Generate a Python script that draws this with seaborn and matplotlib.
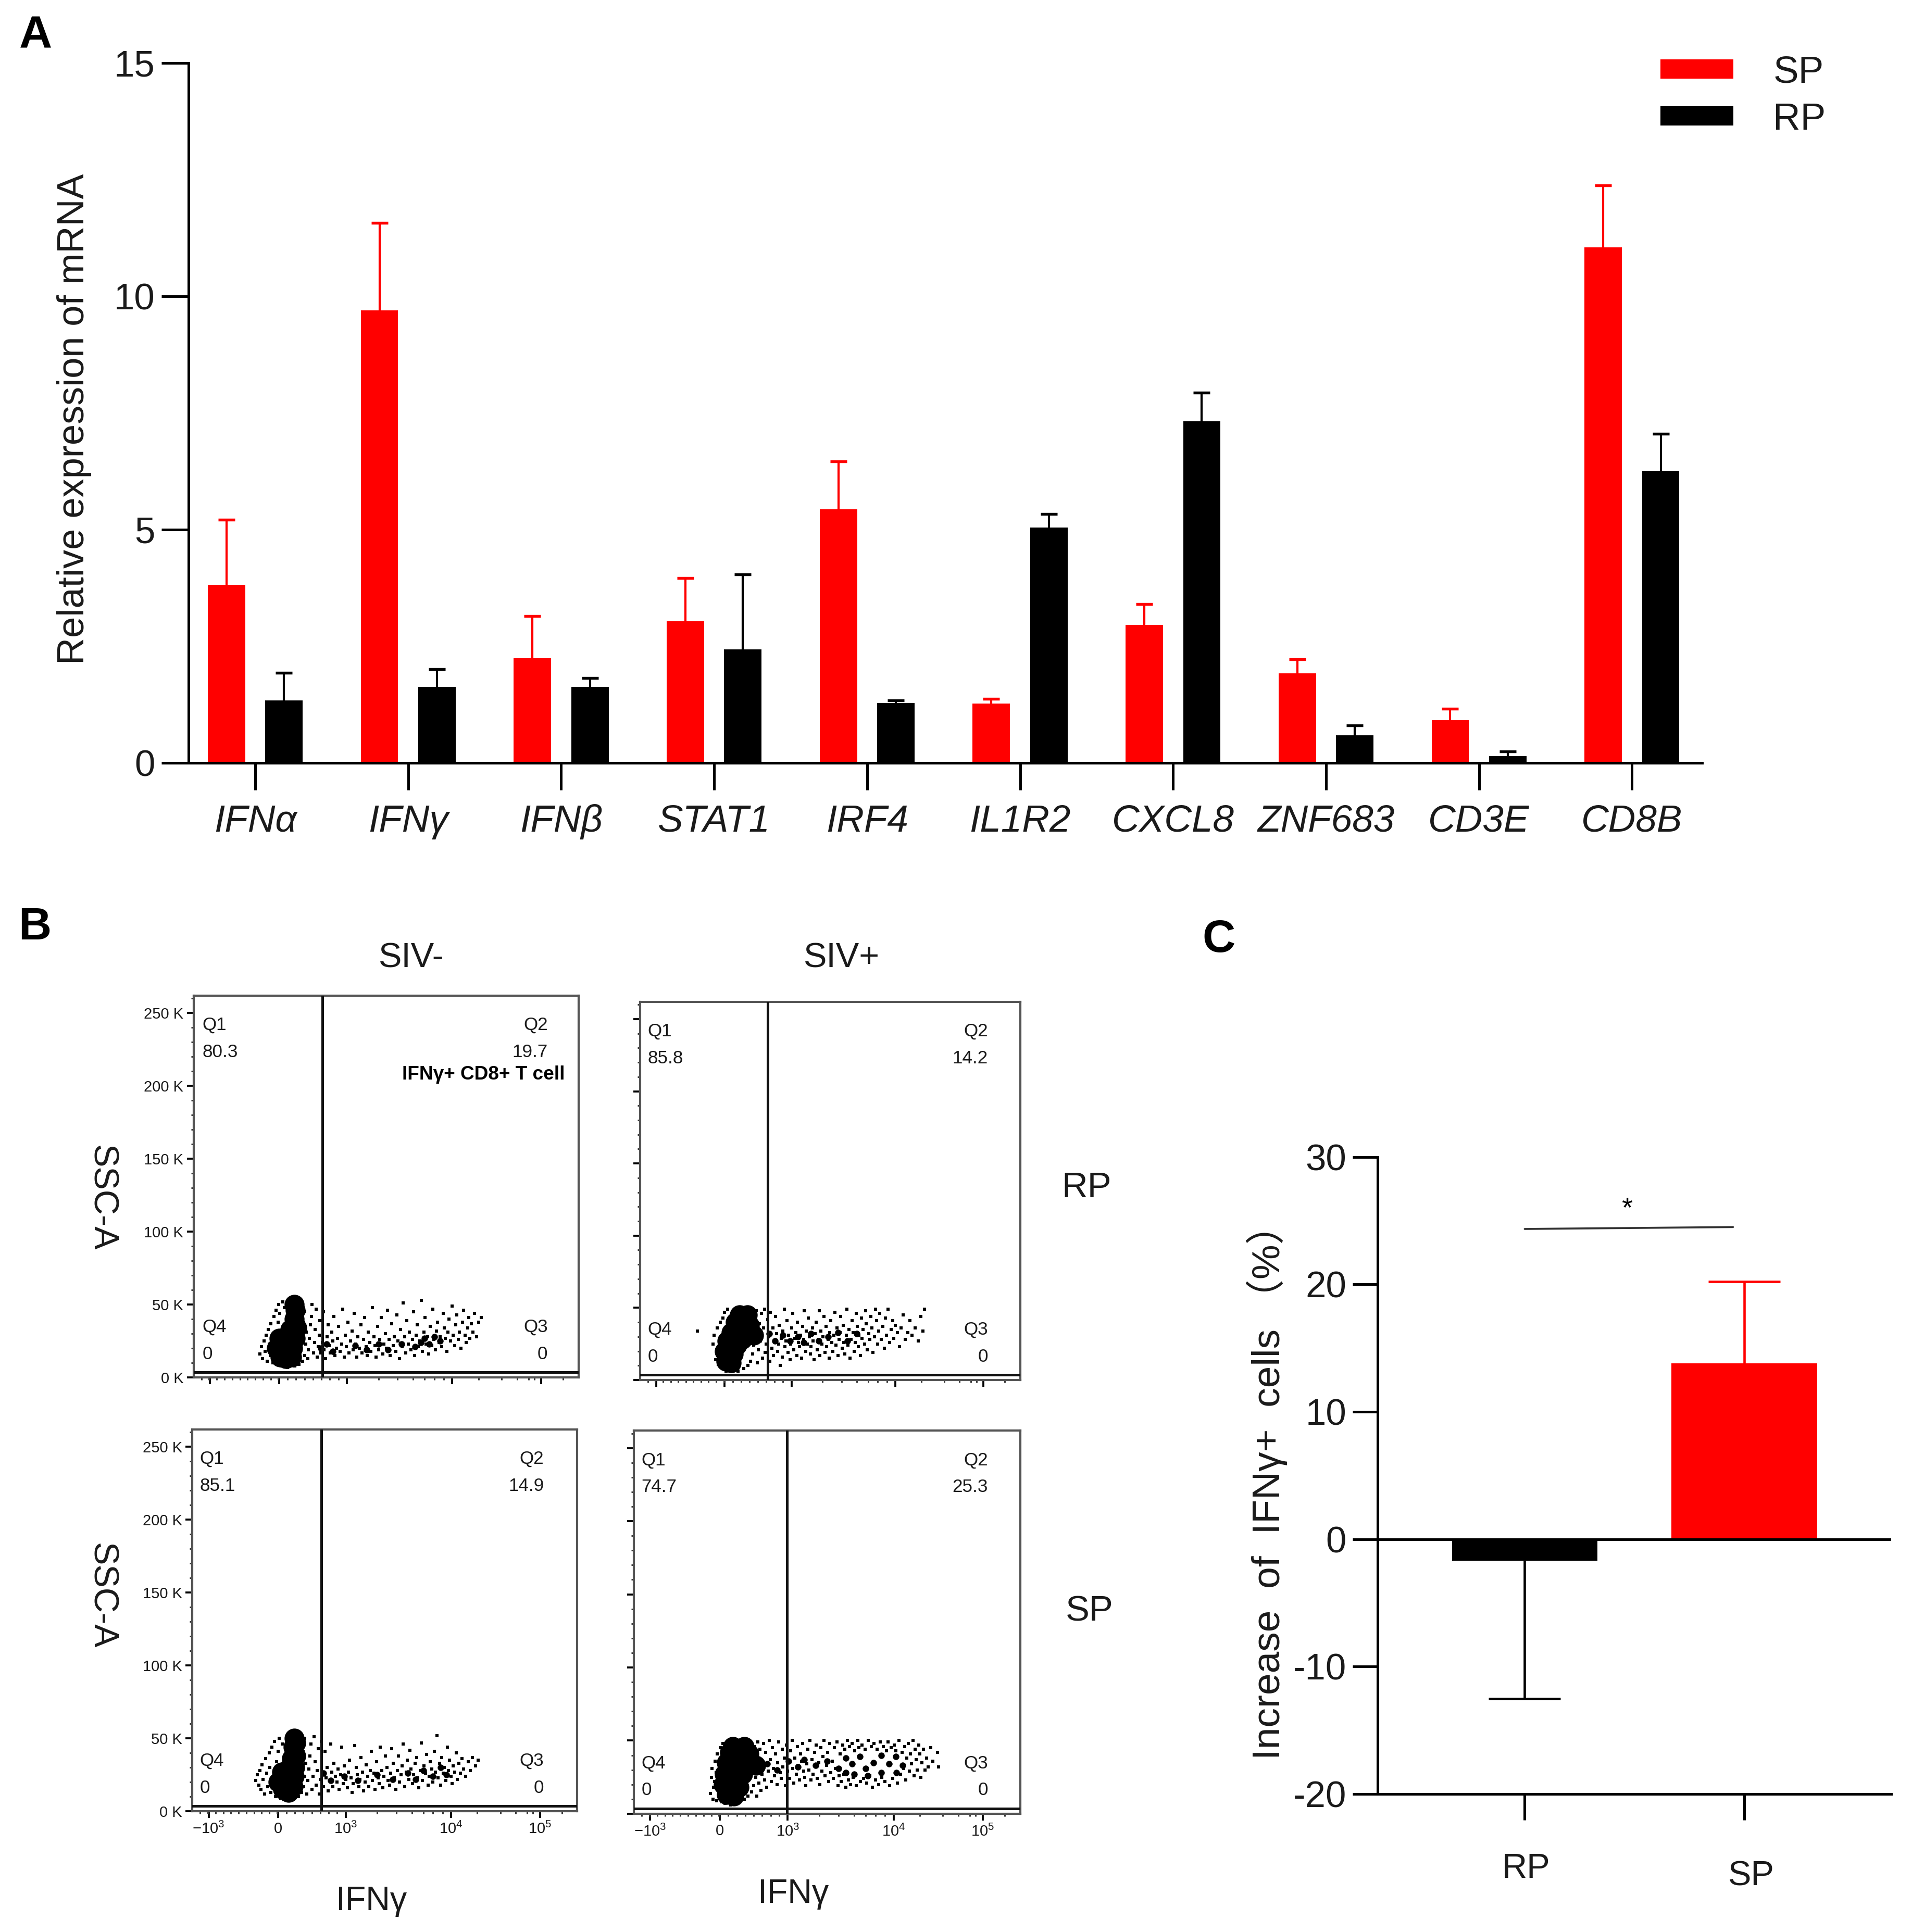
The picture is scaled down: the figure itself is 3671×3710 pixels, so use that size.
import numpy as np
import pandas as pd
import matplotlib
matplotlib.use("Agg")
import matplotlib.pyplot as plt
from matplotlib.ticker import FixedLocator
from matplotlib.transforms import ScaledTranslation
import seaborn as sns

# ---------- Panel A data ----------
genes = ["IFNα", "IFNγ", "IFNβ", "STAT1", "IRF4", "IL1R2", "CXCL8", "ZNF683", "CD3E", "CD8B"]
sp_mean = [3.81, 9.70, 2.24, 3.03, 5.43, 1.27, 2.95, 1.92, 0.91, 11.04]
sp_top = [5.21, 11.57, 3.14, 3.96, 6.46, 1.37, 3.40, 2.22, 1.16, 12.37]
rp_mean = [1.34, 1.63, 1.62, 2.43, 1.28, 5.04, 7.32, 0.59, 0.14, 6.26]
rp_top = [1.93, 2.00, 1.82, 4.04, 1.34, 5.33, 7.93, 0.80, 0.24, 7.05]
yticks_a = [0, 5, 10, 15]

# ---------- Panel C data ----------
groups_c = ["RP", "SP"]
mean_c = [-1.7, 13.8]
end_c = [-12.5, 20.2]
yticks_c = [-20, -10, 0, 10, 20, 30]

# ---------- Panel B data: gate percentages and axis labels ----------
quad_b1 = ["80.3", "19.7", "0", "0"]
quad_b2 = ["85.8", "14.2", "0", "0"]
quad_b3 = ["85.1", "14.9", "0", "0"]
quad_b4 = ["74.7", "25.3", "0", "0"]
flow_yticks = [0, 50, 100, 150, 200, 250]
flow_ylabels = ["0 K", "50 K", "100 K", "150 K", "200 K", "250 K"]
flow_xticks = [42, 222, 398, 672, 903]
flow_xlabels = ["−10$^{3}$", "0", "10$^{3}$", "10$^{4}$", "10$^{5}$"]

# Events: x = display channel (0-1000), y = SSC-A in K.
# Dense population (large dots)
b1_core = [(225, 14), (240, 13), (255, 14), (215, 20), (235, 20), (258, 20), (222, 27), (245, 27), (264, 27), (250, 33), (268, 34), (262, 40), (264, 46), (262, 50)]
b2_core = [(226, 13), (240, 12), (222, 20), (245, 18), (228, 27), (255, 24), (240, 33), (268, 28), (285, 31), (298, 31), (250, 40), (272, 38), (288, 38), (262, 45), (282, 45)]
b3_core = [(235, 15), (250, 13), (262, 17), (222, 20), (240, 22), (264, 24), (232, 27), (252, 30), (266, 30), (258, 36), (268, 38), (262, 44), (268, 47), (264, 50)]
b4_core = [(240, 13), (258, 12), (232, 20), (250, 19), (272, 18), (234, 27), (255, 27), (282, 27), (240, 35), (268, 35), (296, 33), (315, 33), (248, 42), (275, 41), (298, 41), (256, 46), (285, 46)]
# Mid-density clumps (medium dots)
b1_mid = [(330, 20), (345, 23), (362, 18), (420, 22), (450, 19), (480, 23), (505, 19), (540, 23), (575, 21), (590, 24), (600, 27), (612, 23), (625, 28), (640, 25)]
b2_mid = [(340, 32), (355, 27), (375, 31), (395, 27), (415, 30), (430, 26), (450, 32), (470, 27), (495, 30), (520, 33), (545, 27), (570, 32)]
b3_mid = [(340, 26), (360, 21), (395, 24), (430, 21), (480, 25), (520, 22), (560, 26), (580, 22), (600, 28), (625, 24), (645, 30), (660, 25)]
b4_mid = [(345, 34), (370, 30), (400, 36), (425, 32), (440, 37), (470, 33), (500, 36), (530, 31), (548, 28), (548, 38), (565, 34), (570, 27), (585, 39), (600, 31), (605, 26), (620, 35), (640, 40), (640, 28), (660, 34), (678, 39), (680, 28), (695, 33)]
# Sparse events
b1_dots = [(172,16),(176,21),(179,13),(183,25),(186,18),(188,29),(191,11),(194,33),(197,23),(199,15),(201,37),(204,27),(206,10),(208,42),(211,31),(214,46),(216,9),(219,38),(221,50),(224,44),(227,8),(231,52),(236,48),(238,9),(244,7),(252,8),(263,8),(274,9),(283,11),(288,15),(291,23),(293,31),(286,38),(289,45),(296,13),(298,19),(301,27),(303,36),(306,42),(308,50),(311,17),(314,24),(316,33),(318,47),(321,14),(323,21),(326,29),(328,39),(331,17),(334,24),(337,45),(339,19),(343,13),(346,28),(349,36),(352,22),(355,17),(359,31),(362,25),(364,42),(367,15),(371,20),(374,27),(377,35),(381,18),(384,23),(387,47),(391,14),(394,29),(397,21),(401,38),(404,17),(407,25),(411,32),(414,19),(417,44),(421,23),(424,14),(427,28),(431,20),(434,36),(437,17),(441,26),(444,41),(448,21),(451,15),(454,31),(458,24),(461,18),(464,48),(468,28),(471,22),(474,14),(478,35),(481,19),(484,26),(488,41),(491,16),(494,23),(498,30),(501,20),(504,46),(508,26),(511,15),(514,37),(518,22),(521,28),(525,18),(528,43),(531,25),(535,13),(538,33),(541,21),(544,51),(548,28),(551,17),(554,39),(558,23),(561,31),(564,19),(568,26),(571,45),(574,15),(578,29),(581,36),(584,21),(588,25),(591,53),(594,18),(598,31),(601,41),(604,23),(608,28),(611,16),(614,35),(618,22),(621,47),(624,26),(628,19),(631,32),(634,38),(638,24),(641,28),(644,21),(648,44),(651,34),(654,27),(658,18),(661,31),(664,40),(668,25),(671,49),(674,29),(678,22),(681,36),(684,43),(688,26),(691,31),(694,20),(698,38),(701,46),(705,29),(708,24),(712,34),(715,41),(718,27),(722,37),(726,31),(730,44),(735,28),(740,38),(747,41)]
b2_dots = [(150,34),(192,25),(195,31),(198,14),(201,21),(203,36),(206,11),(208,28),(211,40),(213,17),(216,8),(218,43),(222,47),(226,6),(230,49),(236,7),(258,6),(272,8),(283,10),(290,13),(296,18),(299,24),(302,44),(305,48),(308,12),(311,21),(313,39),(316,27),(319,46),(322,15),(324,36),(327,49),(329,19),(332,25),(335,42),(338,30),(341,13),(343,47),(346,22),(349,36),(351,17),(354,27),(356,44),(359,32),(361,20),(364,25),(366,38),(369,10),(371,29),(374,16),(376,34),(379,49),(381,23),(384,27),(386,41),(389,19),(391,31),(394,14),(396,25),(399,36),(402,46),(404,21),(407,29),(409,33),(412,17),(414,40),(417,26),(419,23),(422,31),(425,15),(427,37),(430,28),(432,48),(435,20),(437,34),(440,25),(442,43),(445,30),(448,18),(450,23),(453,36),(455,27),(458,14),(460,32),(463,40),(466,21),(468,28),(471,48),(473,17),(476,34),(478,25),(481,30),(484,44),(486,19),(489,37),(491,23),(494,28),(497,15),(499,33),(502,41),(504,26),(507,20),(510,31),(512,47),(515,24),(518,36),(520,17),(523,28),(526,33),(528,44),(531,22),(534,38),(536,26),(539,18),(542,31),(544,49),(547,24),(550,35),(552,15),(555,28),(558,41),(560,33),(563,20),(566,26),(568,46),(571,37),(574,23),(576,31),(579,17),(582,43),(584,29),(587,35),(590,25),(593,48),(595,39),(598,21),(601,32),(604,28),(607,44),(610,36),(613,19),(616,30),(619,49),(622,41),(625,25),(628,34),(631,46),(635,28),(638,37),(642,22),(645,43),(648,31),(652,49),(656,26),(660,35),(664,41),(668,29),(672,38),(677,33),(682,23),(686,36),(692,45),(698,28),(704,33),(710,41),(716,31),(724,36),(732,27),(738,44),(744,34),(748,49)]
b3_dots = [(165,21),(168,25),(172,18),(175,28),(178,15),(181,32),(184,22),(187,12),(190,36),(193,26),(196,17),(199,40),(201,30),(204,13),(207,44),(210,19),(213,48),(216,10),(219,34),(223,41),(226,50),(230,9),(233,46),(238,8),(248,8),(262,9),(275,10),(284,13),(289,17),(292,24),(294,33),(288,41),(291,50),(297,12),(300,21),(303,29),(305,38),(308,46),(311,15),(314,24),(316,51),(319,34),(322,18),(324,28),(327,43),(330,12),(332,22),(335,48),(338,26),(341,17),(344,41),(347,23),(350,30),(353,14),(356,21),(359,46),(362,27),(365,17),(368,33),(372,24),(375,20),(378,29),(381,15),(385,25),(388,44),(392,19),(395,31),(398,22),(402,16),(405,27),(408,35),(412,23),(415,13),(418,19),(422,45),(425,30),(428,25),(432,17),(435,22),(438,37),(442,27),(445,14),(448,20),(452,32),(455,24),(458,17),(462,28),(465,41),(468,21),(472,26),(475,15),(478,34),(482,23),(485,19),(488,44),(492,28),(495,16),(498,24),(502,38),(505,30),(508,21),(512,18),(515,26),(518,43),(522,33),(525,23),(528,15),(532,28),(535,38),(538,20),(542,25),(545,31),(548,46),(552,17),(555,27),(558,35),(562,22),(565,42),(568,29),(572,19),(575,25),(578,33),(582,37),(585,23),(588,16),(592,28),(595,47),(598,21),(602,31),(605,26),(608,39),(612,18),(615,24),(618,34),(622,29),(625,20),(628,41),(632,27),(635,52),(638,23),(642,33),(645,18),(648,37),(652,26),(655,30),(658,21),(662,44),(665,28),(668,35),(672,24),(675,19),(678,31),(682,27),(685,40),(688,22),(692,33),(696,26),(700,36),(705,29),(710,24),(716,34),(722,28),(728,37),(735,31),(742,35)]
b4_dots = [(198,14),(200,25),(202,31),(204,10),(206,18),(208,22),(210,36),(212,28),(214,9),(216,41),(219,15),(221,33),(224,45),(227,8),(230,48),(236,7),(250,6),(270,8),(285,10),(295,12),(304,15),(310,19),(312,46),(315,25),(318,12),(320,49),(323,21),(326,44),(329,16),(332,27),(335,48),(338,23),(341,42),(344,18),(347,29),(350,50),(353,37),(356,22),(359,45),(361,31),(364,26),(367,41),(370,20),(372,35),(375,49),(378,28),(381,24),(384,44),(386,32),(389,38),(392,19),(395,47),(398,29),(400,35),(403,24),(406,43),(409,50),(411,31),(414,21),(417,38),(420,27),(423,46),(425,33),(428,23),(431,41),(434,36),(436,48),(439,29),(442,25),(445,19),(447,34),(450,44),(453,30),(456,50),(458,23),(461,37),(464,27),(467,42),(470,32),(472,47),(475,24),(478,35),(481,20),(484,45),(487,29),(489,39),(492,50),(495,26),(498,33),(501,42),(504,22),(507,48),(510,28),(513,36),(516,24),(519,45),(522,31),(525,49),(528,19),(531,26),(534,41),(537,22),(540,47),(543,27),(546,44),(549,18),(552,50),(555,23),(558,46),(561,20),(565,48),(568,25),(572,43),(575,19),(579,50),(582,45),(586,22),(590,47),(594,24),(598,44),(602,21),(606,50),(610,26),(614,46),(618,18),(622,48),(626,23),(630,44),(634,20),(638,49),(642,25),(646,46),(650,22),(654,43),(658,49),(662,19),(666,45),(670,24),(674,47),(678,43),(682,21),(686,50),(690,27),(694,42),(698,31),(701,46),(704,23),(707,38),(710,48),(713,29),(716,41),(719,34),(722,50),(725,26),(728,44),(731,37),(734,30),(737,47),(740,41),(743,25),(746,35),(749,44),(753,30),(757,38),(762,32),(768,45),(774,36),(786,42),(788,32)]

# ---------- Style ----------
sns.set_style("ticks")
plt.rcParams["font.family"] = ["Liberation Sans", "DejaVu Sans", "Noto Sans CJK SC"]
plt.rcParams["mathtext.default"] = "regular"
plt.rcParams["axes.unicode_minus"] = False
plt.rcParams["axes.edgecolor"] = "black"
plt.rcParams["xtick.color"] = "black"
plt.rcParams["ytick.color"] = "black"
TXT = "#1a1a1a"
RED = "#FF0000"
W0, H0 = 1550.0, 1568.0   # layout grid of the figure

fig = plt.figure(figsize=(3671.01 / 300, 3710.01 / 300), dpi=300, facecolor="white")


def add_ax(x0, y0, x1, y1):
    return fig.add_axes([x0 / W0, 1 - y1 / H0, (x1 - x0) / W0, (y1 - y0) / H0])


def ftext(x, y, s, **kw):
    kw.setdefault("ha", "center")
    kw.setdefault("va", "center")
    kw.setdefault("color", TXT)
    return fig.text(x / W0, 1 - y / H0, s, **kw)


def one_sided(axis, xs, ys, ends, col, elw, cap, capw):
    """Error bars that only run from the bar end outwards."""
    ys = np.array(ys, float)
    ends = np.array(ends, float)
    lower = np.where(ends < ys, ys - ends, 0)
    upper = np.where(ends > ys, ends - ys, 0)
    art = axis.errorbar(xs, ys, yerr=[lower, upper], fmt="none", ecolor=col,
                        elinewidth=elw, capsize=cap, capthick=capw, zorder=0.5)
    lo_cap, hi_cap = art.lines[1]
    lo_xy, hi_xy = lo_cap.get_xydata(), hi_cap.get_xydata()
    keep = np.where((ends > ys)[:, None], hi_xy, lo_xy)
    lo_cap.set_data(keep[:, 0], keep[:, 1])
    hi_cap.set_visible(False)


# ---------- Panel A ----------
ax = add_ax(153, 51, 1380, 619)
df_a = pd.DataFrame({
    "gene": genes * 2,
    "value": sp_mean + rp_mean,
    "group": ["SP"] * len(genes) + ["RP"] * len(genes),
})
sns.barplot(data=df_a, x="gene", y="value", hue="group", hue_order=["SP", "RP"],
            palette={"SP": RED, "RP": "black"}, width=0.752, gap=0.35,
            errorbar=None, saturation=1, ax=ax, linewidth=0)
for cont, tops, col in zip(ax.containers, [sp_top, rp_top], [RED, "black"]):
    xs = [p.get_x() + p.get_width() / 2 for p in cont.patches]
    ys = [p.get_height() for p in cont.patches]
    one_sided(ax, xs, ys, tops, col, 1.0, 3.8, 1.3)
ax.set_xlim(-0.435, 9.46)
ax.set_ylim(0, 15)
ax.set_yticks(yticks_a)
ax.set_xlabel("")
ax.set_ylabel("")
ax.tick_params(axis="y", length=12.5, width=1.2, labelsize=17, pad=3, labelcolor=TXT)
ax.tick_params(axis="x", length=12.5, width=1.2, labelsize=17.5, pad=6.5, labelcolor=TXT)
for lab in ax.get_xticklabels():
    lab.set_fontstyle("italic")
sns.despine(ax=ax)
for s in ["left", "bottom"]:
    ax.spines[s].set_linewidth(1.2)
h, l = ax.get_legend_handles_labels()
if ax.get_legend():
    ax.get_legend().remove()
leg = ax.legend(h, l, loc="upper left", bbox_to_anchor=(1346 / W0, 1 - 45 / H0),
                bbox_transform=fig.transFigure, frameon=False, fontsize=17.5,
                handlelength=1.92, handleheight=0.4, handletextpad=1.05,
                labelspacing=0.32, borderpad=0, borderaxespad=0)
for t in leg.get_texts():
    t.set_color(TXT)
ftext(60, 340, "Relative expression of mRNA", rotation=90, fontsize=17.3)

# ---------- Panel B ----------
panels = [
    (157, 808, 469, 1118, 335, quad_b1, b1_core, b1_mid, b1_dots, True, False, 164, 444),
    (519, 813, 827, 1120, 336, quad_b2, b2_core, b2_mid, b2_dots, False, False, 525, 801),
    (156, 1160, 468, 1470, 335, quad_b3, b3_core, b3_mid, b3_dots, True, True, 162, 441),
    (514, 1161, 827, 1472, 396, quad_b4, b4_core, b4_mid, b4_dots, False, True, 520, 801),
]
for x0, y0, x1, y1, gate, quad, core, mid, dots, ylab, xlab, tl, tr in panels:
    a = add_ax(x0, y0, x1, y1)
    for pts, size, mark in [(core, 85, "o"), (mid, 9, "o"), (dots, 2.8, "s")]:
        frame = pd.DataFrame(pts, columns=["x", "y"])
        sns.scatterplot(data=frame, x="x", y="y", s=size, marker=mark, color="black",
                        linewidth=0, ax=a, zorder=3)
    a.axvline(gate, color="#111111", lw=1.2, zorder=4)
    a.axhline(3.5, color="#111111", lw=1.2, zorder=4)
    a.set_xlim(0, 1000)
    a.set_ylim(0, 262)
    a.set_xlabel("")
    a.set_ylabel("")
    a.set_yticks(flow_yticks)
    a.yaxis.set_minor_locator(FixedLocator(np.arange(0, 262, 10)))
    a.set_xticks(flow_xticks)
    a.xaxis.set_minor_locator(FixedLocator(list(np.arange(20, 222, 20)) + list(np.arange(222, 398, 22))
                                           + [480, 530, 570, 600, 625, 650, 740, 800, 840, 870, 885, 960]))
    a.set_yticklabels(flow_ylabels if ylab else [""] * len(flow_yticks))
    a.set_xticklabels(flow_xlabels if xlab else [""] * len(flow_xticks))
    a.tick_params(axis="both", which="major", length=3.2, width=0.9, labelsize=7, pad=1.5, labelcolor=TXT)
    a.tick_params(axis="both", which="minor", length=1.3, width=0.7, color="#333333")
    for s in a.spines.values():
        s.set_visible(True)
        s.set_color("#555555")
        s.set_linewidth(1.0)
    # gate annotations
    ftext(tl, y0 + 24, "Q1", ha="left", fontsize=8.4)
    ftext(tl, y0 + 46, quad[0], ha="left", fontsize=8.4)
    ftext(tr, y0 + 24, "Q2", ha="right", fontsize=8.4)
    ftext(tr, y0 + 46, quad[1], ha="right", fontsize=8.4)
    ftext(tl, y1 - 41, "Q4", ha="left", fontsize=8.4)
    ftext(tl, y1 - 19, quad[3], ha="left", fontsize=8.4)
    ftext(tr, y1 - 41, "Q3", ha="right", fontsize=8.4)
    ftext(tr, y1 - 19, quad[2], ha="right", fontsize=8.4)

ftext(458, 872, "IFNγ+ CD8+ T cell", ha="right", fontsize=8.9, fontweight="bold", color="black")
ftext(333, 778, "SIV-", fontsize=16)
ftext(682, 778, "SIV+", fontsize=16)
ftext(881, 964, "RP", fontsize=16.5)
ftext(883, 1308, "SP", fontsize=16.5)
ftext(82, 972, "SSC-A", rotation=-90, fontsize=16)
ftext(82, 1295, "SSC-A", rotation=-90, fontsize=16)
ftext(301, 1543, "IFNγ", fontsize=15.5)
ftext(643, 1537, "IFNγ", fontsize=15.5)

# ---------- Panel C ----------
axc = add_ax(1117, 939, 1533, 1456)
df_c = pd.DataFrame({"group": groups_c, "value": mean_c})
sns.barplot(data=df_c, x="group", y="value", hue="group", palette={"RP": "black", "SP": RED},
            width=0.663, errorbar=None, saturation=1, legend=False, ax=axc, linewidth=0)
for i, (m, e, col) in enumerate(zip(mean_c, end_c, ["black", RED])):
    one_sided(axc, [i], [m], [e], col, 1.1, 16.6, 1.1)
axc.set_xlim(-0.669, 1.669)
axc.set_ylim(-20, 30)
axc.set_yticks(yticks_c)
axc.set_xlabel("")
axc.set_ylabel("")
axc.axhline(0, color="black", lw=1.2, zorder=5)
axc.plot([0, 0.949], [24.35, 24.5], color="#333333", lw=0.9)
axc.text(0.465, 25.9, "*", ha="center", va="center", fontsize=13, color="black")
axc.tick_params(axis="y", length=11.5, width=1.2, labelsize=17, pad=3, labelcolor=TXT)
axc.tick_params(axis="x", length=12, width=1.2, labelsize=16, pad=18, labelcolor=TXT)
sns.despine(ax=axc)
for s in ["left", "bottom"]:
    axc.spines[s].set_linewidth(1.2)
for lab, (dx_pt, dy_pt) in zip(axc.get_xticklabels(), [(0.5, 3), (3, -0.7)]):
    lab.set_transform(lab.get_transform() + ScaledTranslation(dx_pt / 72, dy_pt / 72, fig.dpi_scale_trans))
ftext(1027, 1203, "Increase  of  IFNγ+  cells （%）", rotation=90, fontsize=18)

# ---------- Panel letters ----------
ftext(29, 29, "A", fontsize=21, fontweight="bold", color="black")
ftext(28, 753, "B", fontsize=21, fontweight="bold", color="black")
ftext(988, 763, "C", fontsize=21, fontweight="bold", color="black")

fig.savefig("out.png", dpi=300, facecolor="white")
